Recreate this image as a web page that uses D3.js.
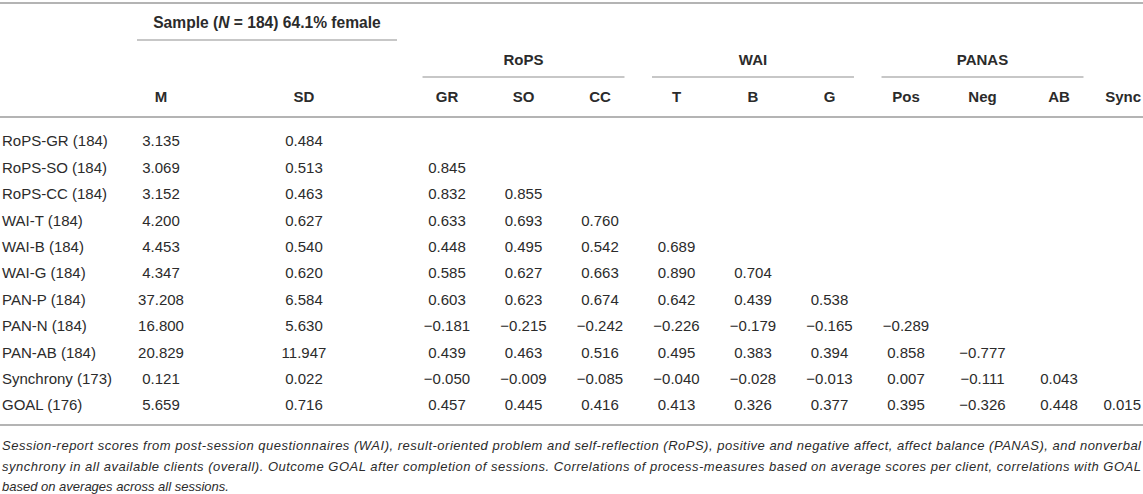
<!DOCTYPE html>
<html>
<head>
<meta charset="utf-8">
<script src="https://cdn.jsdelivr.net/npm/d3@7"></script>
<style>
  body { margin: 0; background: #fff; }
  text { font-family: "Liberation Sans", Arial, Helvetica, sans-serif; }
</style>
</head>
<body>
<div id="table"></div>
<script>
// table values
const rowLabels = ['RoPS-GR (184)', 'RoPS-SO (184)', 'RoPS-CC (184)', 'WAI-T (184)', 'WAI-B (184)',
  'WAI-G (184)', 'PAN-P (184)', 'PAN-N (184)', 'PAN-AB (184)', 'Synchrony (173)', 'GOAL (176)'];
const means = [3.135, 3.069, 3.152, 4.200, 4.453, 4.347, 37.208, 16.800, 20.829, 0.121, 5.659];
const sds = [0.484, 0.513, 0.463, 0.627, 0.540, 0.620, 6.584, 5.630, 11.947, 0.022, 0.716];
const corrCols = ['GR', 'SO', 'CC', 'T', 'B', 'G', 'Pos', 'Neg', 'AB', 'Sync'];
const corrRows = [
  [],
  [0.845],
  [0.832, 0.855],
  [0.633, 0.693, 0.760],
  [0.448, 0.495, 0.542, 0.689],
  [0.585, 0.627, 0.663, 0.890, 0.704],
  [0.603, 0.623, 0.674, 0.642, 0.439, 0.538],
  [-0.181, -0.215, -0.242, -0.226, -0.179, -0.165, -0.289],
  [0.439, 0.463, 0.516, 0.495, 0.383, 0.394, 0.858, -0.777],
  [-0.050, -0.009, -0.085, -0.040, -0.028, -0.013, 0.007, -0.111, 0.043],
  [0.457, 0.445, 0.416, 0.413, 0.326, 0.377, 0.395, -0.326, 0.448, 0.015]
];
const groups = [
  { name: 'RoPS', cols: ['GR', 'SO', 'CC'] },
  { name: 'WAI', cols: ['T', 'B', 'G'] },
  { name: 'PANAS', cols: ['Pos', 'Neg', 'AB'] }
];
const footnote = [
  'Session-report scores from post-session questionnaires (WAI), result-oriented problem and self-reflection (RoPS), positive and negative affect, affect balance (PANAS), and nonverbal',
  'synchrony in all available clients (overall). Outcome GOAL after completion of sessions. Correlations of process-measures based on average scores per client, correlations with GOAL',
  'based on averages across all sessions.'
];

let width = 1143, height = 494;
let ruleColor = '#b4b4b4';
let textColor = '#2b2b2b';

let svg = d3.select('#table')
  .append('svg')
  .attr('width', width)
  .attr('height', height);

// scales
let yScale = d3.scaleBand()
  .domain(d3.range(rowLabels.length))
  .range([128, 418.4]);
let rowY = i => yScale(i) + yScale.bandwidth() / 2;

let xCorr = d3.scalePoint()
  .domain(corrCols.slice(0, 9))
  .range([447, 1059]);
let step = xCorr.step();
let lastX = width - 2;
let colX = c => c === 'Sync' ? lastX : xCorr(c);
let colAnchor = c => c === 'Sync' ? 'end' : 'middle';
let statX = { M: 161, SD: 304 };

let fmt = d3.format('.3f');

function rule(y, x1, x2, w) {
  svg.append('line')
    .attr('x1', x1).attr('x2', x2)
    .attr('y1', y).attr('y2', y)
    .attr('stroke', ruleColor)
    .attr('stroke-width', w);
}

// rules
rule(3, 0, width, 2);
rule(117, 0, width, 2);
rule(425, 0, width, 2);
rule(40, 137, 397, 1.5);

// sample header
let sample = svg.append('text')
  .attr('x', 267)
  .attr('y', 23)
  .attr('dy', '0.35em')
  .attr('text-anchor', 'middle')
  .style('font-size', '15.6px')
  .style('font-weight', 'bold')
  .style('fill', textColor);
sample.append('tspan').text('Sample (');
sample.append('tspan').style('font-style', 'italic').text('N');
sample.append('tspan').text(' = 184) 64.1% female');

// group headers with underlines
groups.forEach(g => {
  let x0 = xCorr(g.cols[0]) - step * 0.32;
  let x1 = xCorr(g.cols[g.cols.length - 1]) + step * 0.32;
  rule(77, x0, x1, 1.5);
  svg.append('text')
    .attr('x', (xCorr(g.cols[0]) + xCorr(g.cols[g.cols.length - 1])) / 2)
    .attr('y', 60)
    .attr('dy', '0.35em')
    .attr('text-anchor', 'middle')
    .style('font-size', '15px')
    .style('font-weight', 'bold')
    .style('fill', textColor)
    .text(g.name);
});

// column headers
let headers = Object.keys(statX).map(k => ({ key: k, x: statX[k], anchor: 'middle' }))
  .concat(corrCols.map(c => ({ key: c, x: colX(c), anchor: colAnchor(c) })));
svg.selectAll('text.colhead')
  .data(headers)
  .enter()
  .append('text')
  .attr('class', 'colhead')
  .attr('x', d => d.x)
  .attr('y', 97)
  .attr('dy', '0.35em')
  .attr('text-anchor', d => d.anchor)
  .style('font-size', '15px')
  .style('font-weight', 'bold')
  .style('fill', textColor)
  .text(d => d.key);

// body rows
let rows = svg.selectAll('g.row')
  .data(rowLabels)
  .enter()
  .append('g')
  .attr('class', 'row')
  .attr('transform', (d, i) => 'translate(0,' + rowY(i) + ')');

rows.append('text')
  .attr('x', 2)
  .attr('dy', '0.35em')
  .style('font-size', '15px')
  .style('fill', textColor)
  .text(d => d);

rows.append('text')
  .attr('x', statX.M)
  .attr('dy', '0.35em')
  .attr('text-anchor', 'middle')
  .style('font-size', '15px')
  .style('fill', textColor)
  .text((d, i) => fmt(means[i]));

rows.append('text')
  .attr('x', statX.SD)
  .attr('dy', '0.35em')
  .attr('text-anchor', 'middle')
  .style('font-size', '15px')
  .style('fill', textColor)
  .text((d, i) => fmt(sds[i]));

rows.each(function(d, i) {
  d3.select(this).selectAll('text.corr')
    .data(corrRows[i].map((v, j) => ({ col: corrCols[j], v: v })))
    .enter()
    .append('text')
    .attr('class', 'corr')
    .attr('x', c => colX(c.col))
    .attr('dy', '0.35em')
    .attr('text-anchor', c => colAnchor(c.col))
    .style('font-size', '15px')
    .style('fill', textColor)
    .text(c => fmt(c.v));
});

// footnote
let note = svg.selectAll('text.note')
  .data(footnote)
  .enter()
  .append('text')
  .attr('class', 'note')
  .attr('x', 2)
  .attr('y', (d, i) => 445.5 + i * 20.5)
  .attr('dy', '0.35em')
  .style('font-size', '13px')
  .style('font-style', 'italic')
  .style('fill', textColor)
  .text(d => d);
note.filter((d, i) => i < 2)
  .attr('textLength', width - 4)
  .attr('lengthAdjust', 'spacing');
</script>
</body>
</html>
